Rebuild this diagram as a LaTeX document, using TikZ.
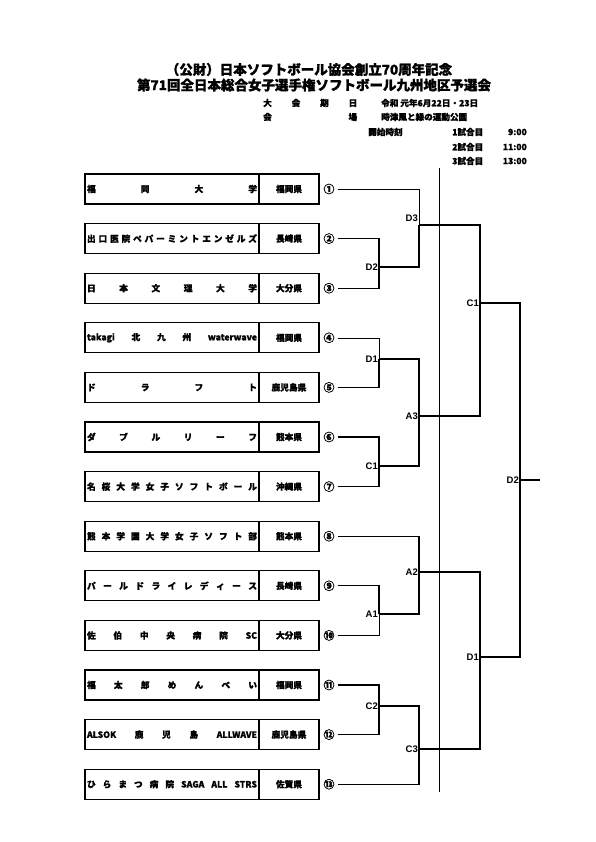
\documentclass[tikz,border=0pt]{standalone}
\usepackage{fontspec}
\setmainfont{Liberation Sans}
\newfontfamily\jp{Noto Sans CJK JP}[FakeBold=1.2]
\tikzset{
  x=1pt, y=-1pt,
  namecell/.style={draw, line width=1.2pt, minimum width=174pt, minimum height=30pt, inner sep=0pt, font=\jp\bfseries\fontsize{8.7}{10}\selectfont},
  prefcell/.style={draw, line width=1.2pt, minimum width=60pt, minimum height=30pt, inner sep=0pt, font=\jp\bfseries\fontsize{8.7}{10}\selectfont},
  numlbl/.style={inner xsep=3pt, inner ysep=0pt, font=\jp\bfseries\fontsize{11}{12}\selectfont},
  wire/.style={line width=1.1pt},
  thinwire/.style={line width=0.55pt},
  mlbl/.style={anchor=east, inner sep=1pt, font=\bfseries\fontsize{9.5}{10}\selectfont},
  titletext/.style={font=\jp\bfseries\fontsize{13.5}{15}\selectfont, inner sep=0pt},
  infotext/.style={font=\jp\bfseries\fontsize{8.6}{10}\selectfont, inner sep=0pt, anchor=west}
}
\newcommand\spreadname[1]{\makebox[170pt][s]{#1}}
\begin{document}
\begin{tikzpicture}
\useasboundingbox[fill=white] (0,0) rectangle (595,842);

% header
\node[titletext] (h1) at (309,69.5) {（公財）日本ソフトボール協会創立70周年記念};
\node[titletext] (h2) at (314,85) {第71回全日本総合女子選手権ソフトボール九州地区予選会};
\node[infotext] (i1) at (263,103) {\makebox[94pt][s]{大\hfill 会\hfill 期\hfill 日}};
\node[infotext] (i2) at (381,103) {令和 元年6月22日・23日};
\node[infotext] (i3) at (263,117) {\makebox[94pt][s]{会\hfill 場}};
\node[infotext] (i4) at (381,117) {時津風と緑の運動公園};
\node[infotext] (i5) at (368,132) {開始時刻};
\node[infotext] (i6) at (452,132) {1試合目};
\node[infotext, anchor=east] (i7) at (527,132) {9:00};
\node[infotext] (i8) at (452,147) {2試合目};
\node[infotext, anchor=east] (i9) at (527,147) {11:00};
\node[infotext] (i10) at (452,161) {3試合目};
\node[infotext, anchor=east] (i11) at (527,161) {13:00};

% teams
\node[namecell] (t1) at (172,189) {\spreadname{福\hfill 岡\hfill 大\hfill 学}};
\node[prefcell] (p1) at (289,189) {福岡県};
\node[numlbl] (n1) at (329,189) {①};
\node[namecell] (t2) at (172,238.6) {\spreadname{出\hfill 口\hfill 医\hfill 院\hfill ペ\hfill パ\hfill ー\hfill ミ\hfill ン\hfill ト\hfill エ\hfill ン\hfill ゼ\hfill ル\hfill ズ}};
\node[prefcell] (p2) at (289,238.6) {長崎県};
\node[numlbl] (n2) at (329,238.6) {②};
\node[namecell] (t3) at (172,288.2) {\spreadname{日\hfill 本\hfill 文\hfill 理\hfill 大\hfill 学}};
\node[prefcell] (p3) at (289,288.2) {大分県};
\node[numlbl] (n3) at (329,288.2) {③};
\node[namecell] (t4) at (172,337.8) {\spreadname{takagi\hfill 北\hfill 九\hfill 州\hfill waterwave}};
\node[prefcell] (p4) at (289,337.8) {福岡県};
\node[numlbl] (n4) at (329,337.8) {④};
\node[namecell] (t5) at (172,387.4) {\spreadname{ド\hfill ラ\hfill フ\hfill ト}};
\node[prefcell] (p5) at (289,387.4) {鹿児島県};
\node[numlbl] (n5) at (329,387.4) {⑤};
\node[namecell] (t6) at (172,437) {\spreadname{ダ\hfill ブ\hfill ル\hfill リ\hfill ー\hfill フ}};
\node[prefcell] (p6) at (289,437) {熊本県};
\node[numlbl] (n6) at (329,437) {⑥};
\node[namecell] (t7) at (172,486.6) {\spreadname{名\hfill 桜\hfill 大\hfill 学\hfill 女\hfill 子\hfill ソ\hfill フ\hfill ト\hfill ボ\hfill ー\hfill ル}};
\node[prefcell] (p7) at (289,486.6) {沖縄県};
\node[numlbl] (n7) at (329,486.6) {⑦};
\node[namecell] (t8) at (172,536.2) {\spreadname{熊\hfill 本\hfill 学\hfill 園\hfill 大\hfill 学\hfill 女\hfill 子\hfill ソ\hfill フ\hfill ト\hfill 部}};
\node[prefcell] (p8) at (289,536.2) {熊本県};
\node[numlbl] (n8) at (329,536.2) {⑧};
\node[namecell] (t9) at (172,585.8) {\spreadname{パ\hfill ー\hfill ル\hfill ド\hfill ラ\hfill イ\hfill レ\hfill デ\hfill ィ\hfill ー\hfill ス}};
\node[prefcell] (p9) at (289,585.8) {長崎県};
\node[numlbl] (n9) at (329,585.8) {⑨};
\node[namecell] (t10) at (172,635.4) {\spreadname{佐\hfill 伯\hfill 中\hfill 央\hfill 病\hfill 院\hfill SC}};
\node[prefcell] (p10) at (289,635.4) {大分県};
\node[numlbl] (n10) at (329,635.4) {⑩};
\node[namecell] (t11) at (172,685) {\spreadname{福\hfill 太\hfill 郎\hfill め\hfill ん\hfill べ\hfill い}};
\node[prefcell] (p11) at (289,685) {福岡県};
\node[numlbl] (n11) at (329,685) {⑪};
\node[namecell] (t12) at (172,734.6) {\spreadname{ALSOK\hfill 鹿\hfill 児\hfill 島\hfill ALLWAVE}};
\node[prefcell] (p12) at (289,734.6) {鹿児島県};
\node[numlbl] (n12) at (329,734.6) {⑫};
\node[namecell] (t13) at (172,784.2) {\spreadname{ひ\hfill ら\hfill ま\hfill つ\hfill 病\hfill 院\hfill SAGA\hfill ALL\hfill STRS}};
\node[prefcell] (p13) at (289,784.2) {佐賀県};
\node[numlbl] (n13) at (329,784.2) {⑬};

% match points
\coordinate (mD2) at (379,267);
\coordinate (mD3) at (419,225);
\coordinate (mD1) at (379,359);
\coordinate (mC1a) at (379,466);
\coordinate (mA3) at (419,416);
\coordinate (mC1) at (480,303);
\coordinate (mA1) at (379,614);
\coordinate (mA2) at (419,572);
\coordinate (mC2) at (379,706);
\coordinate (mC3) at (419,749);
\coordinate (mD1b) at (480,657);
\coordinate (mD2f) at (520,480);
\coordinate (fin) at (540,480);
\coordinate (dtop) at (439,168);
\coordinate (dbot) at (439,792);

% divider
\draw[thinwire] (dtop) -- (dbot);

% connectors
\draw[thinwire] (n1.east) -| (mD3);
\draw[wire] (n2.east) -| (mD2);
\draw[wire] (n3.east) -| (mD2);
\draw[wire] (mD2) -| (mD3);
\draw[thinwire] (n4.east) -| (mD1);
\draw[wire] (n5.east) -| (mD1);
\draw[wire] (n6.east) -| (mC1a);
\draw[wire] (n7.east) -| (mC1a);
\draw[wire] (mD1) -| (mA3);
\draw[wire] (mC1a) -| (mA3);
\draw[wire] (mD3) -| (mC1);
\draw[wire] (mA3) -| (mC1);
\draw[wire] (n9.east) -| (mA1);
\draw[thinwire] (n10.east) -| (mA1);
\draw[wire] (n8.east) -| (mA2);
\draw[wire] (mA1) -| (mA2);
\draw[wire] (n11.east) -| (mC2);
\draw[wire] (n12.east) -| (mC2);
\draw[wire] (mC2) -| (mC3);
\draw[wire] (n13.east) -| (mC3);
\draw[wire] (mA2) -| (mD1b);
\draw[wire] (mC3) -| (mD1b);
\draw[wire] (mC1) -| (mD2f);
\draw[wire] (mD1b) -| (mD2f);
\draw[wire] (mD2f) -- (fin);

% match labels
\node[mlbl] (lD2) at (mD2) {D2};
\node[mlbl] (lD3) at (419,218) {D3};
\node[mlbl] (lD1) at (mD1) {D1};
\node[mlbl] (lC1a) at (mC1a) {C1};
\node[mlbl] (lA3) at (mA3) {A3};
\node[mlbl] (lC1) at (mC1) {C1};
\node[mlbl] (lA1) at (mA1) {A1};
\node[mlbl] (lA2) at (mA2) {A2};
\node[mlbl] (lC2) at (mC2) {C2};
\node[mlbl] (lC3) at (mC3) {C3};
\node[mlbl] (lD1b) at (mD1b) {D1};
\node[mlbl] (lD2f) at (mD2f) {D2};
\end{tikzpicture}
\end{document}
